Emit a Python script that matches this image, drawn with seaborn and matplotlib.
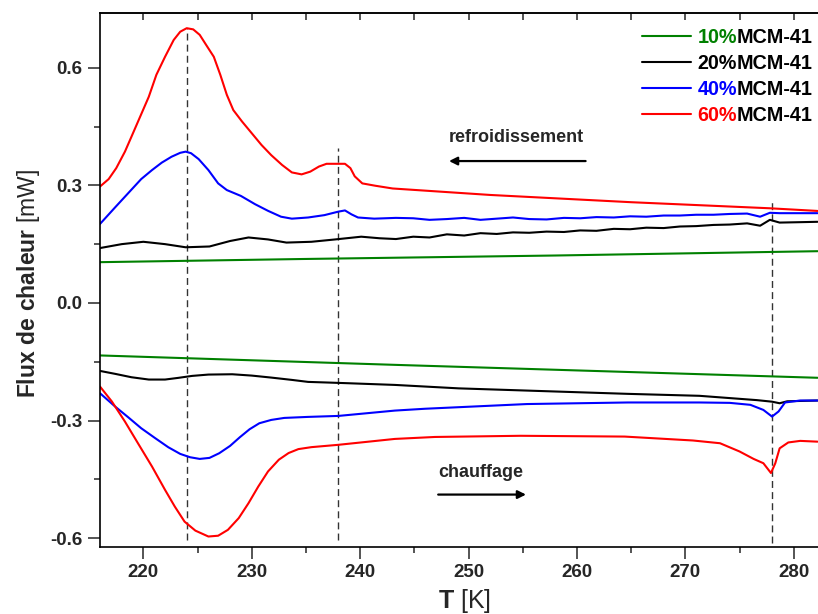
import numpy as np
import pandas as pd
import matplotlib
matplotlib.use("Agg")
import matplotlib.pyplot as plt
import seaborn as sns
from matplotlib.ticker import MultipleLocator, FixedLocator
from matplotlib.lines import Line2D

# ---------------- data ----------------
series_names = ["10%", "20%", "40%", "60%"]
series_colors = ["#008000", "#000000", "#0000FF", "#FF0000"]

# cooling (refroidissement) curves
T_cool_10 = [216.0, 234.5, 258.0, 282.2]
Q_cool_10 = [0.104, 0.112, 0.121, 0.132]

T_cool_20 = [216.0, 218.0, 220.0, 222.0, 223.9, 226.1, 228.0, 229.7, 231.5, 233.2,
             235.5, 237.7, 240.1, 241.8, 243.3, 244.9, 246.4, 248.0, 249.6, 251.1,
             252.6, 254.1, 255.6, 257.2, 258.8, 260.3, 261.8, 263.4, 264.9, 266.4,
             268.0, 269.5, 271.0, 272.6, 274.1, 275.7, 276.9, 277.8, 278.7, 280.5, 282.2]
Q_cool_20 = [0.140, 0.150, 0.156, 0.150, 0.142, 0.144, 0.158, 0.167, 0.162, 0.154,
             0.156, 0.162, 0.169, 0.165, 0.163, 0.169, 0.167, 0.175, 0.172, 0.178,
             0.176, 0.180, 0.179, 0.182, 0.181, 0.185, 0.184, 0.189, 0.188, 0.192,
             0.191, 0.195, 0.196, 0.199, 0.200, 0.203, 0.197, 0.212, 0.205, 0.206, 0.207]

T_cool_40 = [216.0, 217.4, 218.6, 219.8, 220.8, 221.7, 222.6, 223.4, 223.9, 224.4,
             225.1, 226.0, 226.9, 227.7, 229.0, 230.3, 231.5, 232.7, 233.7, 235.2,
             236.7, 238.0, 238.6, 239.2, 239.8, 241.3, 243.3, 244.9, 246.4, 248.0,
             249.6, 251.1, 252.6, 254.1, 255.6, 257.2, 258.8, 260.3, 261.8, 263.4,
             264.9, 266.4, 268.0, 269.5, 271.0, 272.6, 274.1, 275.7, 276.9, 277.8,
             278.7, 282.2]
Q_cool_40 = [0.2015, 0.244, 0.280, 0.316, 0.339, 0.358, 0.373, 0.383, 0.386, 0.382,
             0.367, 0.339, 0.305, 0.288, 0.273, 0.252, 0.235, 0.220, 0.215, 0.218,
             0.224, 0.233, 0.236, 0.226, 0.218, 0.215, 0.217, 0.216, 0.212, 0.214,
             0.217, 0.212, 0.215, 0.218, 0.214, 0.213, 0.217, 0.216, 0.219, 0.218,
             0.221, 0.220, 0.223, 0.223, 0.225, 0.225, 0.227, 0.228, 0.220, 0.230,
             0.229, 0.229]

T_cool_60 = [216.0, 216.8, 217.5, 218.3, 218.9, 219.7, 220.5, 221.2, 222.0, 222.8,
             223.4, 224.0, 224.6, 225.2, 225.8, 226.5, 227.1, 227.7, 228.3, 229.1,
             230.0, 230.9, 231.8, 232.8, 233.7, 234.6, 235.4, 236.2, 236.9, 238.6,
             239.1, 239.5, 240.2, 241.4, 243.0, 249.0, 252.0, 265.0, 277.8, 282.2]
Q_cool_60 = [0.297, 0.316, 0.344, 0.386, 0.424, 0.475, 0.526, 0.582, 0.628, 0.671,
             0.692, 0.701, 0.698, 0.684, 0.658, 0.628, 0.582, 0.531, 0.492, 0.463,
             0.433, 0.403, 0.377, 0.352, 0.333, 0.328, 0.335, 0.348, 0.355, 0.355,
             0.344, 0.323, 0.305, 0.299, 0.292, 0.281, 0.2755, 0.257, 0.2415, 0.2347]

# heating (chauffage) curves
T_heat_10 = [216.0, 243.2, 282.2]
Q_heat_10 = [-0.134, -0.158, -0.191]

T_heat_20 = [216.0, 217.4, 218.9, 220.5, 222.0, 223.2, 224.5, 226.0, 228.2, 230.0,
             231.8, 233.7, 235.2, 237.1, 238.9, 243.2, 249.1, 264.7, 271.3, 276.6,
             278.0, 278.7, 279.4, 282.2]
Q_heat_20 = [-0.1735, -0.181, -0.1896, -0.1955, -0.1955, -0.1913, -0.1862, -0.1828, -0.182, -0.1854,
             -0.1905, -0.1964, -0.2015, -0.2032, -0.2049, -0.2092, -0.218, -0.232, -0.237, -0.248,
             -0.252, -0.256, -0.251, -0.249]

T_heat_40 = [216.0, 217.4, 218.6, 219.8, 221.1, 222.3, 223.4, 224.3, 225.2, 226.1,
             227.0, 228.0, 228.9, 229.8, 230.7, 231.8, 233.0, 235.2, 238.0, 243.2,
             246.0, 255.4, 264.7, 271.3, 274.1, 276.0, 277.2, 278.0, 278.6, 279.2,
             280.6, 282.2]
Q_heat_40 = [-0.2304, -0.2645, -0.2917, -0.3197, -0.3452, -0.3682, -0.3852, -0.3937, -0.398, -0.3954,
             -0.3835, -0.3648, -0.3427, -0.3223, -0.307, -0.2985, -0.2934, -0.2908, -0.2883, -0.2747,
             -0.270, -0.258, -0.254, -0.254, -0.255, -0.260, -0.273, -0.290, -0.277, -0.254,
             -0.249, -0.249]

T_heat_60 = [216.0, 217.1, 218.3, 219.5, 220.8, 222.0, 222.9, 223.8, 224.8, 226.0,
             226.9, 227.8, 228.8, 229.7, 230.6, 231.5, 232.5, 233.4, 234.3, 235.5,
             238.0, 243.2, 246.9, 254.8, 264.4, 270.7, 273.2, 275.0, 276.3, 277.2,
             277.9, 278.3, 278.7, 279.5, 280.6, 282.2]
Q_heat_60 = [-0.2134, -0.2517, -0.3027, -0.358, -0.4175, -0.477, -0.5196, -0.558, -0.581, -0.596,
             -0.594, -0.579, -0.549, -0.511, -0.4686, -0.430, -0.400, -0.383, -0.373, -0.368,
             -0.362, -0.347, -0.342, -0.339, -0.341, -0.351, -0.358, -0.379, -0.398, -0.409,
             -0.434, -0.409, -0.371, -0.356, -0.352, -0.354]

# dashed reference lines
vline_T = [224.0, 238.0, 278.0]
vline_top = [0.701, 0.395, 0.260]
vline_bottom = [-0.605, -0.605, -0.612]

# annotations
cool_text = "refroidissement"
heat_text = "chauffage"
cool_text_xy = (254.4, 0.421)
heat_text_xy = (251.1, -0.432)
cool_arrow = [(260.8, 0.362), (248.2, 0.362)]   # (from, to)
heat_arrow = [(247.2, -0.489), (255.3, -0.489)]

x_ticks = [220, 230, 240, 250, 260, 270, 280]
y_ticks = [-0.6, -0.3, 0.0, 0.3, 0.6]
y_tick_labels = ["-0.6", "-0.3", "0.0", "0.3", "0.6"]

# ---------------- style ----------------
sns.set_style("ticks")
plt.rcParams["font.family"] = ["Liberation Sans", "DejaVu Sans"]
plt.rcParams["font.weight"] = "bold"
plt.rcParams["axes.unicode_minus"] = False
plt.rcParams["mathtext.fontset"] = "custom"
plt.rcParams["mathtext.rm"] = "Liberation Sans"
plt.rcParams["mathtext.bf"] = "Liberation Sans:bold"
plt.rcParams["mathtext.it"] = "Liberation Sans:italic"

fig = plt.figure(figsize=(8.18, 6.14), dpi=100)
fig.patch.set_facecolor("white")
ax = fig.add_axes([100 / 818, 1 - 546.7 / 614, 718 / 818, 533.4 / 614])

lw = 1.5
cool = [(T_cool_10, Q_cool_10), (T_cool_20, Q_cool_20), (T_cool_40, Q_cool_40), (T_cool_60, Q_cool_60)]
heat = [(T_heat_10, Q_heat_10), (T_heat_20, Q_heat_20), (T_heat_40, Q_heat_40), (T_heat_60, Q_heat_60)]
for (tc, qc), (th, qh), col in zip(cool, heat, series_colors):
    sns.lineplot(x=tc, y=qc, ax=ax, color=col, lw=lw, sort=False, estimator=None, legend=False)
    sns.lineplot(x=th, y=qh, ax=ax, color=col, lw=lw, sort=False, estimator=None, legend=False)

for t, top, bot in zip(vline_T, vline_top, vline_bottom):
    ax.plot([t, t], [bot, top], color="#333333", lw=1.0, dashes=(5, 3), zorder=1)

# arrows and texts
ax.annotate("", xy=cool_arrow[1], xytext=cool_arrow[0],
            arrowprops=dict(arrowstyle="-|>", lw=1.6, color="black", mutation_scale=12,
                            shrinkA=0, shrinkB=0))
ax.annotate("", xy=heat_arrow[1], xytext=heat_arrow[0],
            arrowprops=dict(arrowstyle="-|>", lw=1.6, color="black", mutation_scale=12,
                            shrinkA=0, shrinkB=0))
ax.text(*cool_text_xy, cool_text, ha="center", va="center", fontsize=13, fontweight="bold")
ax.text(*heat_text_xy, heat_text, ha="center", va="center", fontsize=13, fontweight="bold")

# axes
ax.set_xlim(216.0, 282.24)
ax.set_ylim(-0.622, 0.739)
ax.xaxis.set_major_locator(FixedLocator(x_ticks))
ax.xaxis.set_minor_locator(MultipleLocator(5))
ax.set_yticks(y_ticks)
ax.set_yticklabels(y_tick_labels)
ax.yaxis.set_minor_locator(MultipleLocator(0.15))
ax.tick_params(which="major", direction="out", length=8.3, width=1.1, labelsize=13.5, pad=4.5)
ax.tick_params(which="minor", direction="out", length=4, width=1.1)
for lab in ax.get_xticklabels() + ax.get_yticklabels():
    lab.set_fontweight("bold")

for s in ["left", "bottom", "top"]:
    ax.spines[s].set_linewidth(1.2)
    ax.spines[s].set_color("black")
ax.spines["right"].set_visible(False)

sec = ax.secondary_xaxis("top")
sec.xaxis.set_major_locator(FixedLocator(x_ticks))
sec.xaxis.set_minor_locator(MultipleLocator(5))
sec.tick_params(which="both", direction="in", length=5, width=1.1, labeltop=False)
sec.spines["top"].set_linewidth(1.2)

ax.set_xlabel(r"$\mathbf{T}$ [K]", fontsize=18, fontweight="normal")
ax.set_ylabel(r"$\mathbf{Flux\ de\ chaleur}$ [mW]", fontsize=16.5, fontweight="normal")
ax.xaxis.set_label_coords(0.508, -0.075)
ax.yaxis.set_label_coords(-0.081, 0.4925)

# legend
handles = [Line2D([], [], color=c, lw=lw) for c in series_colors]
leg = ax.legend(handles, series_names, loc="upper left",
                bbox_to_anchor=(641.7 / 818, 1 - 28.0 / 614), bbox_transform=fig.transFigure,
                frameon=False, borderpad=0, borderaxespad=0, handlelength=2.5,
                handletextpad=0.33, labelspacing=0.35,
                prop=dict(family="Liberation Sans", weight="bold", size=14.2))
for txt, col in zip(leg.get_texts(), series_colors):
    txt.set_color(col)

fig.canvas.draw()
renderer = fig.canvas.get_renderer()
W, H = fig.bbox.width, fig.bbox.height
for txt in leg.get_texts():
    bb = txt.get_window_extent(renderer)
    fig.text(bb.x1 / W, bb.y0 / H, "MCM-41", ha="left", va="bottom",
             fontsize=14.2, fontweight="bold", color="black", family="Liberation Sans")

fig.savefig("out.png", dpi=100, facecolor="white")
